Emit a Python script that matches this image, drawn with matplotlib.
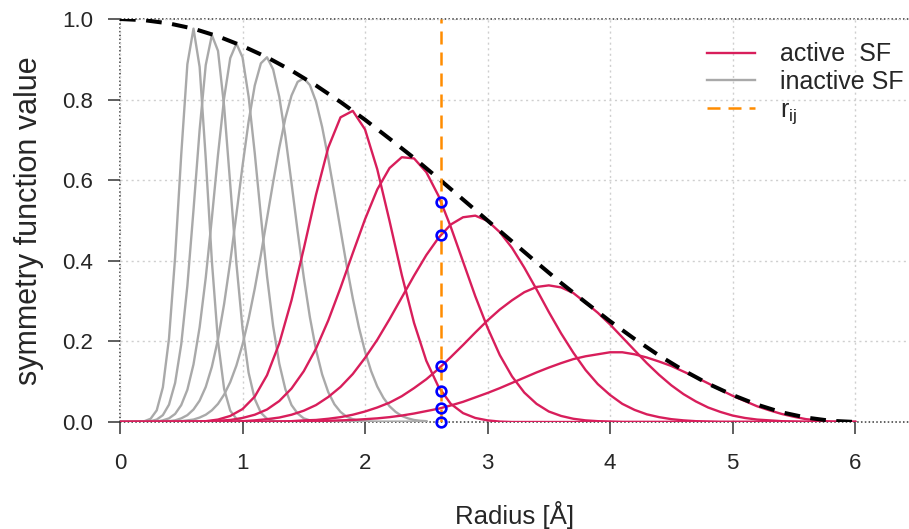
# radial symmetry functions (shifted gaussians x cutoff) with a neighbour distance r_ij
# values

import matplotlib.pyplot as plt
import numpy as np

plt.rcParams['font.family'] = ['Liberation Sans', 'DejaVu Sans']

# === radius grids (Angstrom) the curves were read on
r_gray = [0.0, 0.2, 0.25, 0.3, 0.35, 0.4, 0.45, 0.5, 0.55, 0.6, 0.65, 0.7,
          0.75, 0.8, 0.85, 0.9, 0.95, 1.0, 1.05, 1.1, 1.15, 1.2, 1.25, 1.3,
          1.35, 1.4, 1.45, 1.5, 1.55, 1.6, 1.65, 1.7, 1.75, 1.8, 1.85, 1.9,
          1.95, 2.0, 2.05, 2.1, 2.15, 2.2, 2.25, 2.3, 2.35, 2.4, 2.45, 2.5]
r_red = [0.0, 0.6, 0.7, 0.8, 0.9, 1.0, 1.1, 1.2, 1.3, 1.4,
         1.5, 1.6, 1.7, 1.8, 1.9, 2.0, 2.1, 2.2, 2.3, 2.4,
         2.5, 2.6, 2.7, 2.8, 2.9, 3.0, 3.1, 3.2, 3.3, 3.4,
         3.5, 3.6, 3.7, 3.8, 3.9, 4.0, 4.1, 4.2, 4.3, 4.4,
         4.5, 4.6, 4.7, 4.8, 4.9, 5.0, 5.1, 5.2, 5.3, 5.4,
         5.5, 5.6, 5.7, 5.8, 5.9, 6.0]
r_env = [0.0, 0.2, 0.4, 0.6, 0.8, 1.0, 1.2, 1.4, 1.6, 1.8, 2.0, 2.2, 2.4, 2.6, 2.8, 3.0,
         3.2, 3.4, 3.6, 3.8, 4.0, 4.2, 4.4, 4.6, 4.8, 5.0, 5.2, 5.4, 5.6, 5.8, 6.0]

# === inactive symmetry functions (gray)
sf_in1 = [0, 0.002, 0.008, 0.029, 0.086, 0.207, 0.409, 0.664, 0.888, 0.976, 0.881, 0.654,
          0.399, 0.200, 0.082, 0.028, 0.008, 0.002, 0, 0, 0, 0, 0, 0,
          0, 0, 0, 0, 0, 0, 0, 0, 0, 0, 0, 0,
          0, 0, 0, 0, 0, 0, 0, 0, 0, 0, 0, 0]
sf_in2 = [0, 0.001, 0.002, 0.006, 0.017, 0.043, 0.097, 0.193, 0.338, 0.526, 0.725, 0.886,
          0.960, 0.921, 0.783, 0.589, 0.394, 0.233, 0.122, 0.057, 0.023, 0.008, 0.003, 0.001,
          0, 0, 0, 0, 0, 0, 0, 0, 0, 0, 0, 0,
          0, 0, 0, 0, 0, 0, 0, 0, 0, 0, 0, 0]
sf_in3 = [0, 0, 0, 0.001, 0.004, 0.009, 0.020, 0.042, 0.080, 0.143, 0.235, 0.358,
          0.506, 0.663, 0.804, 0.903, 0.939, 0.905, 0.807, 0.667, 0.511, 0.362, 0.238, 0.145,
          0.081, 0.042, 0.021, 0.009, 0.004, 0.001, 0, 0, 0, 0, 0, 0,
          0, 0, 0, 0, 0, 0, 0, 0, 0, 0, 0, 0]
sf_in4 = [0, 0, 0, 0, 0.001, 0.002, 0.004, 0.009, 0.017, 0.031, 0.053, 0.087,
          0.137, 0.205, 0.293, 0.398, 0.515, 0.635, 0.746, 0.835, 0.890, 0.905, 0.875, 0.807,
          0.709, 0.593, 0.473, 0.359, 0.260, 0.179, 0.118, 0.074, 0.044, 0.025, 0.013, 0.007,
          0.003, 0.002, 0.001, 0, 0, 0, 0, 0, 0, 0, 0, 0]
sf_in5 = [0, 0, 0, 0, 0, 0.001, 0.001, 0.002, 0.004, 0.006, 0.011, 0.018,
          0.029, 0.045, 0.068, 0.099, 0.140, 0.192, 0.256, 0.331, 0.415, 0.505, 0.595, 0.680,
          0.754, 0.810, 0.844, 0.853, 0.836, 0.795, 0.732, 0.654, 0.567, 0.477, 0.388, 0.307,
          0.235, 0.175, 0.126, 0.088, 0.060, 0.039, 0.025, 0.015, 0.009, 0.005, 0.003, 0.002]

# === active symmetry functions (red)
sf_act1 = [0, 0.001, 0.002, 0.006, 0.015, 0.032, 0.063, 0.116, 0.195, 0.302,
           0.430, 0.564, 0.681, 0.756, 0.772, 0.726, 0.627, 0.499, 0.365, 0.246,
           0.152, 0.087, 0.045, 0.022, 0.010, 0.004, 0.001, 0, 0, 0,
           0, 0, 0, 0, 0, 0, 0, 0, 0, 0,
           0, 0, 0, 0, 0, 0, 0, 0, 0, 0,
           0, 0, 0, 0, 0, 0]
sf_act2 = [0, 0.001, 0.001, 0.003, 0.005, 0.010, 0.018, 0.031, 0.052, 0.083,
           0.126, 0.182, 0.252, 0.333, 0.419, 0.503, 0.577, 0.630, 0.657, 0.654,
           0.620, 0.561, 0.484, 0.398, 0.312, 0.234, 0.166, 0.113, 0.073, 0.045,
           0.026, 0.015, 0.008, 0.004, 0.002, 0.001, 0, 0, 0, 0,
           0, 0, 0, 0, 0, 0, 0, 0, 0, 0,
           0, 0, 0, 0, 0, 0]
sf_act3 = [0, 0, 0, 0.001, 0.001, 0.002, 0.004, 0.007, 0.011, 0.018,
           0.028, 0.042, 0.062, 0.087, 0.119, 0.159, 0.204, 0.255, 0.309, 0.363,
           0.414, 0.457, 0.490, 0.508, 0.512, 0.499, 0.471, 0.432, 0.383, 0.329,
           0.273, 0.220, 0.172, 0.129, 0.094, 0.067, 0.045, 0.030, 0.019, 0.012,
           0.007, 0.004, 0.002, 0.001, 0, 0, 0, 0, 0, 0,
           0, 0, 0, 0, 0, 0]
sf_act4 = [0, 0, 0, 0, 0, 0, 0, 0.001, 0.001, 0.002,
           0.004, 0.005, 0.008, 0.012, 0.018, 0.026, 0.036, 0.048, 0.064, 0.084,
           0.106, 0.132, 0.161, 0.191, 0.222, 0.252, 0.279, 0.302, 0.322, 0.335,
           0.339, 0.334, 0.320, 0.296, 0.271, 0.242, 0.210, 0.178, 0.146, 0.117,
           0.091, 0.069, 0.051, 0.036, 0.025, 0.016, 0.010, 0.006, 0.004, 0.002,
           0.001, 0, 0, 0, 0, 0]
sf_act5 = [0, 0, 0, 0, 0, 0, 0, 0, 0.001, 0.001,
           0.001, 0.002, 0.003, 0.004, 0.005, 0.007, 0.009, 0.012, 0.016, 0.021,
           0.027, 0.033, 0.041, 0.050, 0.061, 0.072, 0.084, 0.097, 0.110, 0.123,
           0.135, 0.146, 0.156, 0.163, 0.168, 0.173, 0.173, 0.168, 0.160, 0.150,
           0.139, 0.125, 0.111, 0.096, 0.080, 0.065, 0.052, 0.039, 0.029, 0.020,
           0.013, 0.007, 0.004, 0.001, 0, 0]

# === cutoff envelope
cutoff = [1.0, 0.997, 0.989, 0.976, 0.957, 0.933, 0.905, 0.872, 0.835, 0.794, 0.75, 0.703,
          0.655, 0.604, 0.552, 0.5, 0.448, 0.396, 0.345, 0.297, 0.25, 0.206, 0.165, 0.128,
          0.095, 0.067, 0.043, 0.024, 0.011, 0.003, 0.0]

# === neighbour distance and the SF values picked up there
r_ij = 2.62
sf_at_rij = [0.546, 0.464, 0.138, 0.078, 0.035, 0.001]

inactive = [sf_in1, sf_in2, sf_in3, sf_in4, sf_in5]
active = [sf_act1, sf_act2, sf_act3, sf_act4, sf_act5]

red = "#d81e5b"
gray = "#a9a9a9"
orange = "#ff8c00"
txt = "#262626"

fig, ax = plt.subplots(figsize=(9.09, 5.29), dpi=100)
fig.subplots_adjust(left=0.132, right=1.0, bottom=0.2023, top=0.9641)
ax.set_xlim(0, 6.44)
ax.set_ylim(0, 1)

# grid + black dotted frame lines
ax.grid(color="#cfcfcf", linestyle=(0, (1.5, 2.5)), linewidth=1.0)
for yy in (0, 1):
    ax.axhline(yy, color="#333333", linestyle=(0, (1, 1.5)), linewidth=1.1, clip_on=False, zorder=1)
ax.axvline(0, color="#333333", linestyle=(0, (1, 1.5)), linewidth=1.1, clip_on=False, zorder=1)

for i, vals in enumerate(inactive):
    ax.plot(r_gray, vals, color=gray, lw=1.7, zorder=2,
            label="inactive SF" if i == 0 else "_nolegend_")
for i, vals in enumerate(active):
    ax.plot(r_red, vals, color=red, lw=1.7, zorder=3,
            label="active  SF" if i == 0 else "_nolegend_")

ax.plot(r_env, cutoff, color="black", lw=2.9, linestyle=(0, (3.9, 2.6)), zorder=4)
ax.axvline(r_ij, color=orange, lw=1.8, linestyle=(0, (5.2, 3.2)), zorder=5,
           label=r"$\mathregular{r_{ij}}$")
ax.plot([r_ij] * len(sf_at_rij), sf_at_rij, "o", mfc="none", mec="#0000ff",
        mew=1.9, ms=7, zorder=6, clip_on=False)

ax.set_xticks(range(7))
ax.set_yticks([0, 0.2, 0.4, 0.6, 0.8, 1.0])
ax.set_yticklabels(["0.0", "0.2", "0.4", "0.6", "0.8", "1.0"])
ax.tick_params(axis="both", length=8.6, width=1.1, color="#333333",
               labelsize=16, labelcolor=txt)
ax.tick_params(axis="x", pad=13.5)
ax.tick_params(axis="y", pad=11)
for sp in ax.spines.values():
    sp.set_visible(False)

ax.set_xlabel("Radius [Å]", fontsize=18.5, color=txt)
ax.xaxis.set_label_coords(0.5, -0.231)
ax.xaxis.label.set_verticalalignment("center")
ax.set_ylabel("symmetry function value", fontsize=22, color=txt)
ax.yaxis.set_label_coords(-0.115, 0.5)
ax.yaxis.label.set_verticalalignment("center")

h, l = ax.get_legend_handles_labels()
order = [l.index("active  SF"), l.index("inactive SF"), l.index(r"$\mathregular{r_{ij}}$")]
ax.legend([h[k] for k in order], [l[k] for k in order], loc="upper left",
          bbox_to_anchor=(0.744, 0.942), frameon=False, fontsize=18,
          borderpad=0, borderaxespad=0, handlelength=1.9, handletextpad=1.0,
          labelspacing=0.15, labelcolor=txt)

fig.savefig("out.png", dpi=100)
